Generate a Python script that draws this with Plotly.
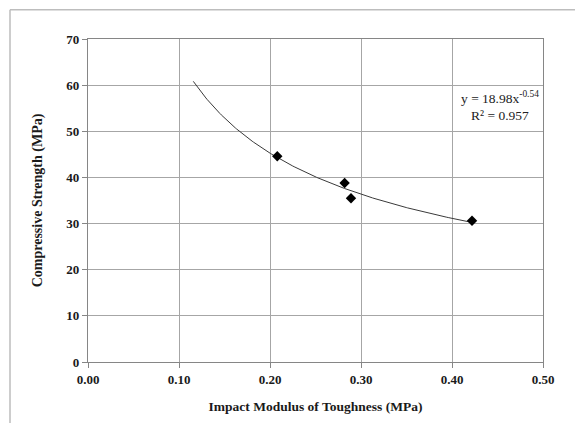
import numpy as np
import plotly.graph_objects as go

# Measured data
toughness = [0.208, 0.282, 0.289, 0.422]      # Impact modulus of toughness (MPa)
strength = [44.6, 38.8, 35.5, 30.6]           # Compressive strength (MPa)

# Power trendline y = a * x^b
coef_a = 18.98
coef_b = -0.54
r_squared = 0.957
trend_start, trend_end = 0.1157, 0.422

x_ticks = [0.0, 0.1, 0.2, 0.3, 0.4, 0.5]
x_tick_labels = ["0.00", "0.10", "0.20", "0.30", "0.40", "0.50"]
y_ticks = [0, 10, 20, 30, 40, 50, 60, 70]

FONT = "Liberation Serif"
W, H = 575, 423
L, R, T, B = 88, 32, 39, 59

trend_x = np.linspace(trend_start, trend_end, 200)
trend_y = coef_a * trend_x ** coef_b

fig = go.Figure()
fig.add_trace(go.Scatter(
    x=trend_x, y=trend_y, mode="lines",
    line=dict(color="#3a3a3a", width=1), hoverinfo="skip", showlegend=False,
))
fig.add_trace(go.Scatter(
    x=toughness, y=strength, mode="markers",
    marker=dict(symbol="diamond", size=8, color="black"),
    showlegend=False,
))

fig.add_annotation(
    x=0.453, y=55.4, xref="x", yref="y",
    text=f"y = {coef_a:.2f}x<sup>{coef_b:.2f}</sup><br>R² = {r_squared:.3f}",
    showarrow=False, xanchor="center", yanchor="middle",
    font=dict(family=FONT, size=13.5, color="#222"),
)

# Outer chart frame (top and left edges)
pw, ph = W - L - R, H - T - B
fx0 = (10 - L) / pw
fy1 = (H - B - 9.5) / ph
fig.add_shape(type="line", xref="paper", yref="paper",
              x0=fx0, x1=2, y0=fy1, y1=fy1, line=dict(color="#bdbdbd", width=1.5))
fig.add_shape(type="line", xref="paper", yref="paper",
              x0=fx0, x1=fx0, y0=fy1, y1=-1, line=dict(color="#bdbdbd", width=1.5))

axis_common = dict(
    showgrid=True, gridcolor="#a6a6a6", gridwidth=1,
    showline=True, linecolor="#868686", linewidth=1.2,
    ticks="outside", ticklen=5, tickcolor="#868686",
    tickfont=dict(family=FONT, size=13, color="#1a1a1a", weight="bold"),
    zeroline=False,
)

fig.update_xaxes(
    range=[0, 0.5], tickvals=x_ticks, ticktext=x_tick_labels, mirror=True,
    title=dict(text="<b>Impact Modulus of Toughness (MPa)</b>",
               font=dict(family=FONT, size=13.5, color="#1a1a1a"), standoff=15),
    **axis_common,
)
fig.update_yaxes(
    range=[0, 70], tickvals=y_ticks, mirror=True,
    title=dict(text="<b>Compressive Strength (MPa)</b>",
               font=dict(family=FONT, size=14, color="#1a1a1a"), standoff=20),
    **axis_common,
)

fig.update_layout(
    width=W, height=H,
    margin=dict(l=L, r=R, t=T, b=B),
    paper_bgcolor="white", plot_bgcolor="white",
    font=dict(family=FONT),
)

fig.write_html("out.html")
